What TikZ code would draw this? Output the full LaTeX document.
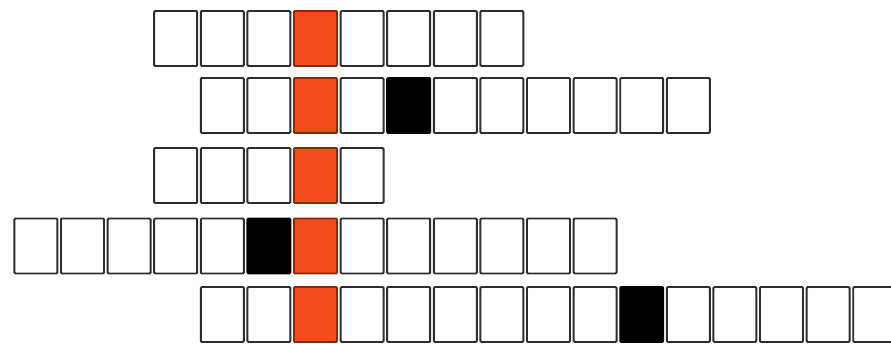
\documentclass[tikz,border=0pt]{standalone}
\usetikzlibrary{positioning}
\definecolor{cellred}{RGB}{244,76,28}
\definecolor{celledge}{RGB}{45,45,45}
\tikzset{
  cell/.style={draw=celledge, fill=white, rounded corners=0.6pt,
               minimum width=0.86cm, minimum height=1.1cm,
               inner sep=0pt, line width=1.1pt},
}
\begin{document}
\begin{tikzpicture}[x=0.02cm, y=-0.02cm]
  \useasboundingbox (0,0) rectangle (891,344);
  % ── rows: number / y centre / first col / last col / black col ──
  \foreach \r/\y/\a/\b/\blk in {1/38.5/-3/4/99, 2/105.5/-2/8/2,
                               3/175.5/-3/1/99, 4/246/-6/6/-1,
                               5/314.5/-2/12/7}
    \foreach \k in {\a,...,\b} {
      \ifnum\k=0 \def\fc{cellred}\def\dc{cellred!55!black}%
      \else\ifnum\k=\blk\relax \def\fc{black}\def\dc{black}%
      \else \def\fc{white}\def\dc{celledge}\fi\fi
      \node[cell, fill=\fc, draw=\dc] (r\r c\k) at (315.5+46.6*\k, \y) {};
    }
\end{tikzpicture}
\end{document}
